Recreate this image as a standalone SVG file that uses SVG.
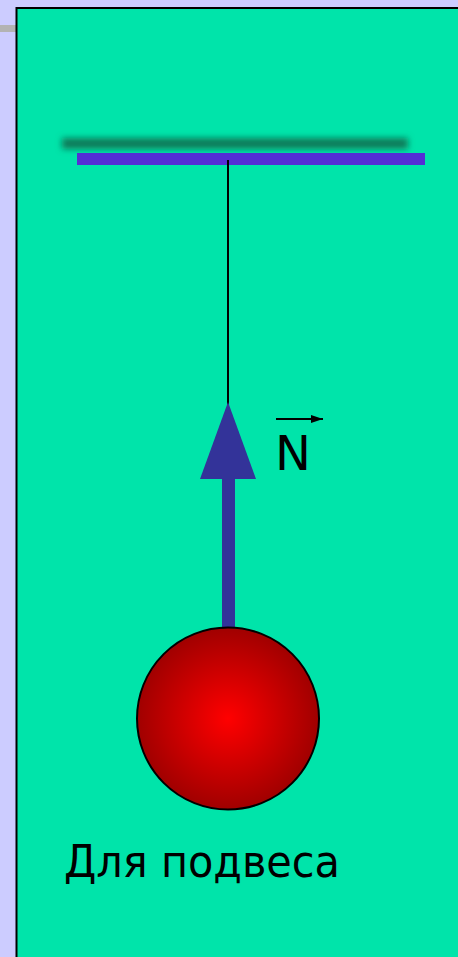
<svg xmlns="http://www.w3.org/2000/svg" width="458" height="957" viewBox="0 0 458 957">
  <style>
    .lbl { font-family: "DejaVu Sans", Verdana, sans-serif; fill: #000000; }
  </style>
  <defs>
    <radialGradient id="ballGrad" cx="50%" cy="50%" r="50%">
      <stop offset="0%" stop-color="#FF0000"/>
      <stop offset="100%" stop-color="#A00000"/>
    </radialGradient>
    <filter id="blur" x="-10%" y="-200%" width="120%" height="500%">
      <feGaussianBlur stdDeviation="3"/>
    </filter>
    <marker id="vecHead" markerWidth="12" markerHeight="8" refX="12" refY="4" orient="auto" markerUnits="userSpaceOnUse">
      <path d="M0,0 L12,4 L0,8 Z" fill="#000000"/>
    </marker>
  </defs>

  <rect x="0" y="0" width="458" height="957" fill="#CCCCFF"/>
  <rect x="0" y="25" width="17" height="7" fill="#B3B3B3"/>
  <rect id="panel" x="16.5" y="8" width="450" height="960" fill="#00E4AA" stroke="#000000" stroke-width="2"/>

  <g id="ceiling">
    <rect x="62" y="138" width="346" height="11" fill="#0A7A58" filter="url(#blur)"/>
    <rect x="77" y="153" width="348" height="12" fill="#542ED5"/>
  </g>

  <g id="connectors">
    <line x1="228" y1="160" x2="228" y2="405" stroke="#000000" stroke-width="2"/>
  </g>

  <g id="force-arrow">
    <rect x="222" y="476" width="13" height="154" fill="#333399"/>
    <polygon points="228,402 256,479 200,479" fill="#333399"/>
  </g>

  <g id="label-N">
    <line x1="276" y1="419" x2="323" y2="419" stroke="#000000" stroke-width="2" marker-end="url(#vecHead)"/>
    <text class="lbl" x="275" y="470" font-size="48">N</text>
  </g>

  <g id="ball">
    <circle cx="228" cy="718.5" r="91" fill="url(#ballGrad)" stroke="#000000" stroke-width="2"/>
  </g>

  <g id="caption">
    <text class="lbl" x="64" y="877" font-size="45" textLength="276" lengthAdjust="spacingAndGlyphs">Для подвеса</text>
  </g>
</svg>
